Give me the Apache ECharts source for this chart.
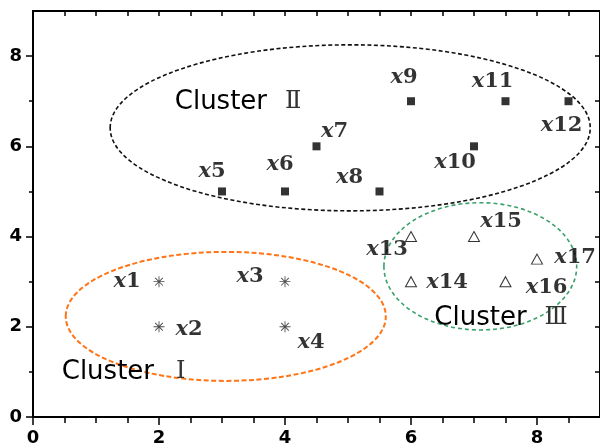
<!DOCTYPE html>
<html>
<head>
<meta charset="utf-8">
<script src="https://cdn.jsdelivr.net/npm/echarts@6/dist/echarts.min.js"></script>
<style>
  html, body { margin: 0; padding: 0; background: #fff; }
  #chart { width: 600px; height: 447px; }
</style>
</head>
<body>
<div id="chart"></div>
<script>
// ---- data: sample points grouped by cluster ----
const cluster1Names = ['x1', 'x2', 'x3', 'x4'];
const cluster1X = [2, 2, 4, 4];
const cluster1Y = [3, 2, 3, 2];

const cluster2Names = ['x5', 'x6', 'x7', 'x8', 'x9', 'x10', 'x11', 'x12'];
const cluster2X = [3, 4, 4.5, 5.5, 6, 7, 7.5, 8.5];
const cluster2Y = [5, 5, 6, 5, 7, 6, 7, 7];

const cluster3Names = ['x13', 'x14', 'x15', 'x16', 'x17'];
const cluster3X = [6, 6, 7, 7.5, 8];
const cluster3Y = [4, 3, 4, 3, 3.5];

const clusterWords = ['Cluster', 'Cluster', 'Cluster'];
const clusterNumerals = ['Ⅰ', 'Ⅱ', 'Ⅲ'];

// tick values
const xMajorTicks = [0, 2, 4, 6, 8];
const xMinorTicks = [0.5, 1, 1.5, 2.5, 3, 3.5, 4.5, 5, 5.5, 6.5, 7, 7.5, 8.5];
const xAllTicks = [0, 0.5, 1, 1.5, 2, 2.5, 3, 3.5, 4, 4.5, 5, 5.5, 6, 6.5, 7, 7.5, 8, 8.5];
const yMajorTicks = [0, 2, 4, 6, 8];
const yMinorTicks = [1, 3, 5, 7];
const yAllTicks = [0, 1, 2, 3, 4, 5, 6, 7, 8];

// ---- layout / style (kept apart from the data) ----
const labelOffsets = {
  x1: [-32, 0], x2: [30, 3], x3: [-35, -5], x4: [26, 16],
  x5: [-10, -20], x6: [-5, -27], x7: [18, -15], x8: [-30, -14],
  x9: [-7, -24], x10: [-19, 16], x11: [-13, -20], x12: [-7, 24],
  x13: [-24, 13], x14: [36, 1], x15: [27, -15], x16: [41, 6], x17: [38, -2]
};
// ellipse outlines in axis units: centre, semi-axes; text anchor (left, middle)
const clusterShapes = [
  { cx: 3.06, cy: 2.23, rx: 2.54, ry: 1.43, tx: 0.456, ty: 1.0, gap: 22, color: '#ff7417', dash: [5, 2.5], width: 2 },
  { cx: 5.035, cy: 6.41, rx: 3.81, ry: 1.84, tx: 2.25, ty: 6.98, gap: 18, color: '#111', dash: [4, 2.5], width: 1.6 },
  { cx: 7.10, cy: 3.34, rx: 1.53, ry: 1.41, tx: 6.37, ty: 2.2, gap: 18, color: '#3aa06c', dash: [4, 3], width: 1.6 }
];

const asteriskPath = 'path://M9.2 0H10.8V20H9.2Z M0 9.2H20V10.8H0Z ' +
  'M2.4 3.6L3.6 2.4L17.6 16.4L16.4 17.6Z M16.4 2.4L17.6 3.6L3.6 17.6L2.4 16.4Z';

const labelRich = {
  i: { fontFamily: 'DejaVu Serif', fontStyle: 'italic', fontWeight: 'bold', fontSize: 21, color: '#000' },
  n: { fontFamily: 'DejaVu Serif', fontWeight: 'bold', fontSize: 21, color: '#000' }
};

function buildPoints(names, xs, ys) {
  return names.map((n, k) => ({
    name: n,
    value: [xs[k], ys[k]],
    label: { offset: labelOffsets[n] }
  }));
}

function pointSeries(names, xs, ys, symbol, size, itemStyle) {
  return {
    type: 'scatter',
    xAxisIndex: 0,
    yAxisIndex: 0,
    symbol: symbol,
    symbolSize: size,
    itemStyle: itemStyle,
    z: 5,
    data: buildPoints(names, xs, ys),
    label: {
      show: true,
      position: 'inside',
      align: 'center',
      verticalAlign: 'middle',
      color: '#000',
      formatter: p => '{i|x}{n|' + p.name.slice(1) + '}',
      rich: labelRich
    },
    emphasis: { disabled: true }
  };
}

const tickLabelStyle = {
  fontFamily: 'DejaVu Sans', fontWeight: 'bold', fontSize: 18, color: '#000'
};
const lineStyle = { color: '#000', width: 2 };

function xAxisDef(position, ticks, tickLen, inside, showLine, labels) {
  return {
    type: 'value', min: 0, max: 9, position: position,
    axisLine: { show: showLine, onZero: false, lineStyle: lineStyle },
    axisTick: { show: true, inside: inside, length: tickLen, customValues: ticks, lineStyle: { color: '#000', width: 1.5 } },
    axisLabel: labels
      ? Object.assign({ show: true, margin: 12, customValues: labels }, tickLabelStyle)
      : { show: false },
    splitLine: { show: false }
  };
}
function yAxisDef(position, ticks, tickLen, inside, showLine, labels) {
  return {
    type: 'value', min: 0, max: 9, position: position,
    axisLine: { show: showLine, onZero: false, lineStyle: lineStyle },
    axisTick: { show: true, inside: inside, length: tickLen, customValues: ticks, lineStyle: { color: '#000', width: 1.5 } },
    axisLabel: labels
      ? Object.assign({ show: true, margin: 11, customValues: labels }, tickLabelStyle)
      : { show: false },
    splitLine: { show: false }
  };
}

const chart = echarts.init(document.getElementById('chart'), null, { renderer: 'canvas' });

chart.setOption({
  animation: false,
  backgroundColor: '#fff',
  grid: { left: 33, top: 11, right: -5, bottom: 30, containLabel: false },
  xAxis: [
    xAxisDef('bottom', xMajorTicks, 8, false, true, xMajorTicks),
    xAxisDef('bottom', xMinorTicks, 6, false, false, null),
    xAxisDef('top', xAllTicks, 5, true, true, null)
  ],
  yAxis: [
    yAxisDef('left', yMajorTicks, 7, false, true, yMajorTicks),
    yAxisDef('left', yMinorTicks, 4, false, false, null),
    yAxisDef('right', yAllTicks, 5, true, true, null)
  ],
  series: [
    pointSeries(cluster1Names, cluster1X, cluster1Y, asteriskPath, 11, { color: '#222' }),
    pointSeries(cluster2Names, cluster2X, cluster2Y, 'rect', 8, { color: '#000' }),
    pointSeries(cluster3Names, cluster3X, cluster3Y, 'triangle', [11, 10],
      { color: '#fff', borderColor: '#000', borderWidth: 1 })
  ]
});

// cluster outlines and titles, placed through the grid's coordinate system
function toPx(x, y) { return chart.convertToPixel({ gridIndex: 0 }, [x, y]); }

const graphics = [];
clusterShapes.forEach((s, k) => {
  const c = toPx(s.cx, s.cy);
  const ex = toPx(s.cx + s.rx, s.cy);
  const ey = toPx(s.cx, s.cy + s.ry);
  graphics.push({
    type: 'ellipse',
    shape: { cx: c[0], cy: c[1], rx: ex[0] - c[0], ry: c[1] - ey[1] },
    style: { fill: null, stroke: s.color, lineWidth: s.width, lineDash: s.dash },
    z: 1,
    silent: true
  });
  const t = toPx(s.tx, s.ty);
  graphics.push({
    type: 'text',
    x: t[0], y: t[1],
    z: 10,
    silent: true,
    style: {
      text: '{w|' + clusterWords[k] + '}{g|}{r|' + clusterNumerals[k] + '}',
      verticalAlign: 'middle',
      align: 'left',
      rich: {
        w: { fontFamily: 'DejaVu Sans', fontSize: 26, fill: '#000' },
        g: { width: s.gap },
        r: { fontFamily: 'DejaVu Serif', fontSize: 24, fill: '#333' }
      }
    }
  });
});
chart.setOption({ graphic: graphics });
</script>
</body>
</html>
